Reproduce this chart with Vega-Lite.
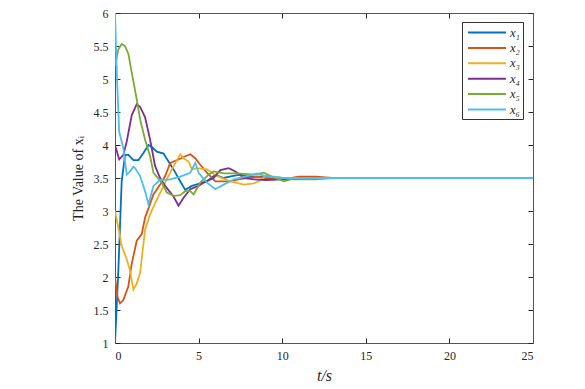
{
  "$schema": "https://vega.github.io/schema/vega-lite/v6.json",
  "autosize": "none",
  "padding": {"left": 115, "top": 13, "right": 52, "bottom": 45},
  "width": 418,
  "height": 330,
  "background": "white",
  "config": {
    "view": {"stroke": null},
    "font": "Liberation Serif",
    "axis": {
      "labelFont": "Liberation Serif", "labelFontSize": 12, "labelColor": "#262626",
      "titleFont": "Liberation Serif", "titleColor": "#262626", "titleFontWeight": "normal",
      "domainColor": "#555555", "domainWidth": 1, "tickColor": "#262626", "tickWidth": 1,
      "tickSize": -5, "grid": false
    }
  },
  "data": {"values": [
    {"s":"x₁","t":0,"v":1},{"s":"x₁","t":0.2,"v":2.1},{"s":"x₁","t":0.4,"v":3.45},{"s":"x₁","t":0.6,"v":3.85},{"s":"x₁","t":0.8,"v":3.85},{"s":"x₁","t":1.1,"v":3.77},{"s":"x₁","t":1.4,"v":3.77},{"s":"x₁","t":1.7,"v":3.88},{"s":"x₁","t":2.0,"v":4.0},{"s":"x₁","t":2.2,"v":3.97},{"s":"x₁","t":2.5,"v":3.9},{"s":"x₁","t":2.9,"v":3.87},{"s":"x₁","t":3.2,"v":3.75},{"s":"x₁","t":3.5,"v":3.63},{"s":"x₁","t":3.9,"v":3.45},{"s":"x₁","t":4.2,"v":3.32},{"s":"x₁","t":4.6,"v":3.38},{"s":"x₁","t":5.1,"v":3.42},{"s":"x₁","t":5.5,"v":3.45},{"s":"x₁","t":6.0,"v":3.55},{"s":"x₁","t":6.5,"v":3.5},{"s":"x₁","t":7.0,"v":3.53},{"s":"x₁","t":7.5,"v":3.55},{"s":"x₁","t":8.0,"v":3.52},{"s":"x₁","t":9.0,"v":3.52},{"s":"x₁","t":10,"v":3.5},{"s":"x₁","t":13,"v":3.5},{"s":"x₁","t":25,"v":3.5},
    {"s":"x₂","t":0,"v":2.0},{"s":"x₂","t":0.15,"v":1.7},{"s":"x₂","t":0.3,"v":1.6},{"s":"x₂","t":0.5,"v":1.65},{"s":"x₂","t":0.8,"v":1.86},{"s":"x₂","t":1.0,"v":2.2},{"s":"x₂","t":1.3,"v":2.55},{"s":"x₂","t":1.6,"v":2.65},{"s":"x₂","t":1.8,"v":2.9},{"s":"x₂","t":2.3,"v":3.25},{"s":"x₂","t":2.7,"v":3.4},{"s":"x₂","t":3.0,"v":3.53},{"s":"x₂","t":3.3,"v":3.73},{"s":"x₂","t":3.8,"v":3.78},{"s":"x₂","t":4.2,"v":3.83},{"s":"x₂","t":4.5,"v":3.86},{"s":"x₂","t":4.8,"v":3.8},{"s":"x₂","t":5.1,"v":3.7},{"s":"x₂","t":5.5,"v":3.58},{"s":"x₂","t":6.0,"v":3.45},{"s":"x₂","t":6.5,"v":3.45},{"s":"x₂","t":6.9,"v":3.45},{"s":"x₂","t":7.4,"v":3.48},{"s":"x₂","t":7.9,"v":3.5},{"s":"x₂","t":8.5,"v":3.52},{"s":"x₂","t":9,"v":3.5},{"s":"x₂","t":10,"v":3.48},{"s":"x₂","t":11,"v":3.52},{"s":"x₂","t":12,"v":3.52},{"s":"x₂","t":13,"v":3.5},{"s":"x₂","t":25,"v":3.5},
    {"s":"x₃","t":0,"v":3.0},{"s":"x₃","t":0.2,"v":2.75},{"s":"x₃","t":0.4,"v":2.47},{"s":"x₃","t":0.7,"v":2.27},{"s":"x₃","t":0.9,"v":2.1},{"s":"x₃","t":1.1,"v":1.81},{"s":"x₃","t":1.3,"v":1.9},{"s":"x₃","t":1.5,"v":2.06},{"s":"x₃","t":1.8,"v":2.72},{"s":"x₃","t":2.1,"v":2.95},{"s":"x₃","t":2.4,"v":3.12},{"s":"x₃","t":3.0,"v":3.43},{"s":"x₃","t":3.4,"v":3.63},{"s":"x₃","t":3.9,"v":3.86},{"s":"x₃","t":4.1,"v":3.8},{"s":"x₃","t":4.4,"v":3.75},{"s":"x₃","t":4.6,"v":3.63},{"s":"x₃","t":4.9,"v":3.65},{"s":"x₃","t":5.5,"v":3.63},{"s":"x₃","t":6.1,"v":3.53},{"s":"x₃","t":6.9,"v":3.45},{"s":"x₃","t":7.7,"v":3.4},{"s":"x₃","t":8.3,"v":3.42},{"s":"x₃","t":8.6,"v":3.45},{"s":"x₃","t":9.0,"v":3.53},{"s":"x₃","t":9.5,"v":3.52},{"s":"x₃","t":10,"v":3.5},{"s":"x₃","t":12,"v":3.5},{"s":"x₃","t":25,"v":3.5},
    {"s":"x₄","t":0,"v":4.0},{"s":"x₄","t":0.25,"v":3.78},{"s":"x₄","t":0.5,"v":3.85},{"s":"x₄","t":0.7,"v":4.05},{"s":"x₄","t":1.0,"v":4.45},{"s":"x₄","t":1.3,"v":4.62},{"s":"x₄","t":1.5,"v":4.58},{"s":"x₄","t":1.8,"v":4.42},{"s":"x₄","t":2.1,"v":4.08},{"s":"x₄","t":2.4,"v":3.68},{"s":"x₄","t":2.7,"v":3.5},{"s":"x₄","t":3.0,"v":3.38},{"s":"x₄","t":3.5,"v":3.22},{"s":"x₄","t":3.8,"v":3.08},{"s":"x₄","t":4.1,"v":3.2},{"s":"x₄","t":4.5,"v":3.33},{"s":"x₄","t":5.0,"v":3.38},{"s":"x₄","t":5.3,"v":3.43},{"s":"x₄","t":5.9,"v":3.5},{"s":"x₄","t":6.3,"v":3.62},{"s":"x₄","t":6.8,"v":3.65},{"s":"x₄","t":7.2,"v":3.6},{"s":"x₄","t":7.7,"v":3.5},{"s":"x₄","t":8.3,"v":3.48},{"s":"x₄","t":9,"v":3.47},{"s":"x₄","t":10,"v":3.48},{"s":"x₄","t":11,"v":3.5},{"s":"x₄","t":13,"v":3.5},{"s":"x₄","t":25,"v":3.5},
    {"s":"x₅","t":0,"v":5.2},{"s":"x₅","t":0.2,"v":5.45},{"s":"x₅","t":0.4,"v":5.53},{"s":"x₅","t":0.6,"v":5.5},{"s":"x₅","t":0.8,"v":5.38},{"s":"x₅","t":1.0,"v":5.1},{"s":"x₅","t":1.3,"v":4.69},{"s":"x₅","t":1.5,"v":4.39},{"s":"x₅","t":1.8,"v":4.08},{"s":"x₅","t":2.1,"v":3.83},{"s":"x₅","t":2.3,"v":3.58},{"s":"x₅","t":2.8,"v":3.43},{"s":"x₅","t":3.1,"v":3.28},{"s":"x₅","t":3.5,"v":3.23},{"s":"x₅","t":3.9,"v":3.24},{"s":"x₅","t":4.2,"v":3.3},{"s":"x₅","t":4.5,"v":3.3},{"s":"x₅","t":4.7,"v":3.25},{"s":"x₅","t":5.1,"v":3.43},{"s":"x₅","t":5.6,"v":3.55},{"s":"x₅","t":5.9,"v":3.6},{"s":"x₅","t":6.5,"v":3.57},{"s":"x₅","t":7.3,"v":3.57},{"s":"x₅","t":8.3,"v":3.55},{"s":"x₅","t":8.9,"v":3.58},{"s":"x₅","t":9.3,"v":3.53},{"s":"x₅","t":10.1,"v":3.45},{"s":"x₅","t":10.5,"v":3.48},{"s":"x₅","t":11,"v":3.48},{"s":"x₅","t":12,"v":3.48},{"s":"x₅","t":13,"v":3.5},{"s":"x₅","t":25,"v":3.5},
    {"s":"x₆","t":0,"v":6.0},{"s":"x₆","t":0.12,"v":5.0},{"s":"x₆","t":0.25,"v":4.2},{"s":"x₆","t":0.5,"v":3.95},{"s":"x₆","t":0.7,"v":3.55},{"s":"x₆","t":0.9,"v":3.6},{"s":"x₆","t":1.1,"v":3.67},{"s":"x₆","t":1.2,"v":3.65},{"s":"x₆","t":1.5,"v":3.53},{"s":"x₆","t":1.8,"v":3.3},{"s":"x₆","t":2.0,"v":3.1},{"s":"x₆","t":2.3,"v":3.38},{"s":"x₆","t":2.7,"v":3.47},{"s":"x₆","t":3.3,"v":3.48},{"s":"x₆","t":3.9,"v":3.52},{"s":"x₆","t":4.5,"v":3.58},{"s":"x₆","t":4.8,"v":3.73},{"s":"x₆","t":5.0,"v":3.58},{"s":"x₆","t":5.5,"v":3.43},{"s":"x₆","t":6.0,"v":3.33},{"s":"x₆","t":6.5,"v":3.4},{"s":"x₆","t":7.1,"v":3.48},{"s":"x₆","t":7.9,"v":3.53},{"s":"x₆","t":8.5,"v":3.57},{"s":"x₆","t":9,"v":3.53},{"s":"x₆","t":10,"v":3.5},{"s":"x₆","t":25,"v":3.5}
  ]},
  "layer": [
    {
      "mark": {"type": "line", "strokeWidth": 1.8, "clip": true},
      "encoding": {
        "x": {"field": "t", "type": "quantitative",
              "scale": {"domain": [0, 25], "nice": false},
              "axis": {"orient": "bottom", "values": [0,5,10,15,20,25], "format": "~g", "labelFont": "serif", "labelPadding": 12, "title": "t/s", "titleFont": "serif", "titleFontStyle": "italic", "titleFontSize": 16, "titlePadding": 6}},
        "y": {"field": "v", "type": "quantitative",
              "scale": {"domain": [1, 6], "nice": false, "zero": false},
              "axis": {"orient": "left", "values": [1,1.5,2,2.5,3,3.5,4,4.5,5,5.5,6], "format": "~g", "labelFont": "serif", "labelPadding": 12, "title": "The Value of xᵢ", "titleFont": "Liberation Serif", "titleFontSize": 14, "titlePadding": 8}},
        "color": {"field": "s", "type": "nominal",
                  "scale": {"domain": ["x₁","x₂","x₃","x₄","x₅","x₆"], "range": ["#0072BD","#D95319","#EDB120","#7E2F8E","#77AC30","#4DBEEE"]},
                  "legend": {"title": null, "orient": "none", "legendX": 347, "legendY": 9,
                             "symbolType": "M-0.7,0H5.15", "symbolSize": 169, "symbolStrokeWidth": 2,
                             "labelFont": "serif", "labelFontStyle": "italic", "labelFontSize": 12.5, "labelColor": "#262626", "labelOffset": 30,
                             "strokeColor": "#333333", "fillColor": "white", "padding": 3, "rowPadding": 1.4}}
      }
    },
    {
      "mark": {"type": "line", "opacity": 0},
      "encoding": {
        "x": {"field": "t", "type": "quantitative",
              "axis": {"orient": "top", "values": [0,5,10,15,20,25], "labels": false, "title": null}},
        "y": {"field": "v", "type": "quantitative",
              "axis": {"orient": "right", "values": [1,1.5,2,2.5,3,3.5,4,4.5,5,5.5,6], "labels": false, "title": null}},
        "detail": {"field": "s"}
      }
    }
  ],
  "resolve": {"axis": {"x": "independent", "y": "independent"}}
}
